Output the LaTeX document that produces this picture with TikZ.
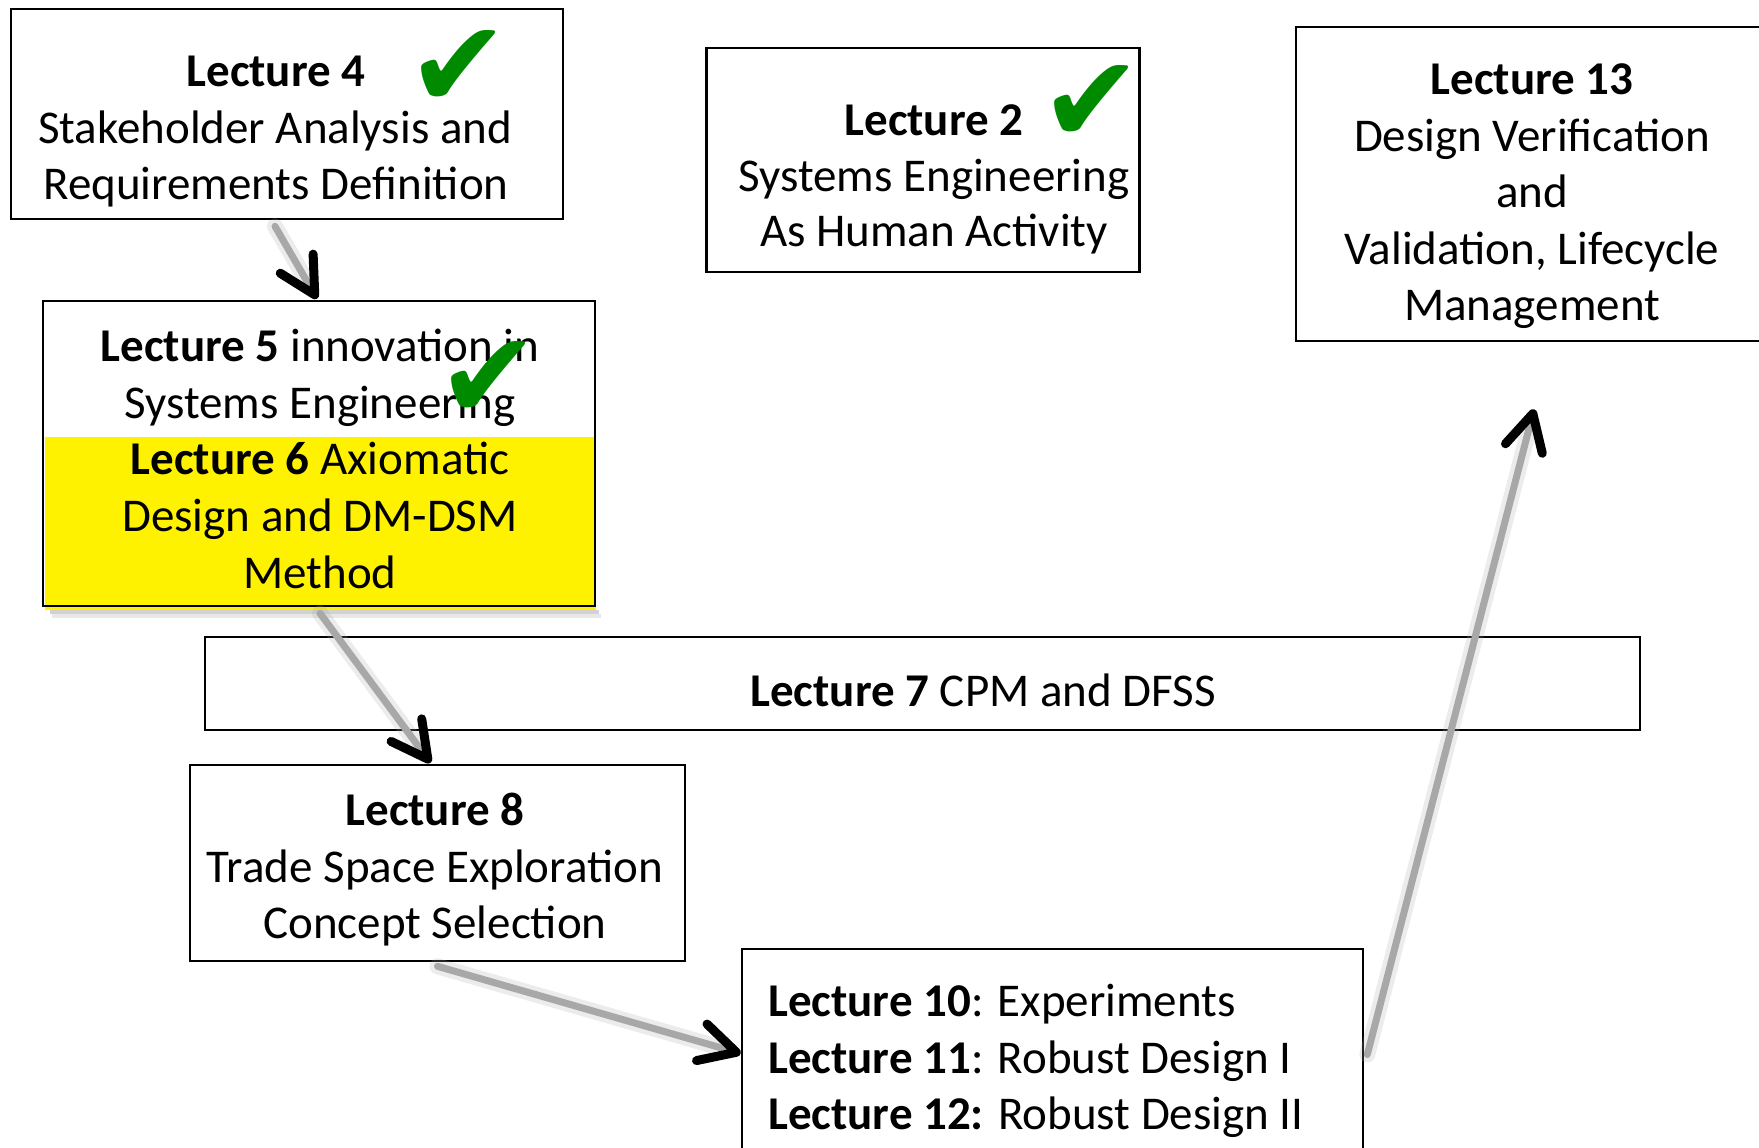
\documentclass[tikz,border=0pt]{standalone}
\usepackage{fontspec}
\setmainfont{Carlito}
\newfontfamily\symfont{DejaVu Sans}
\usetikzlibrary{arrows.meta,calc}
\definecolor{tickgreen}{RGB}{0,138,0}
\definecolor{flowgray}{RGB}{168,168,168}
\begin{document}
\begin{tikzpicture}[x=1pt,y=-1pt,
  box/.style={draw=black,line width=2.6pt,rectangle,inner sep=0pt},
  txt/.style={font=\fontsize{47}{57}\selectfont,inner sep=0pt,anchor=base},
  txtl/.style={txt,anchor=base west},
  tick/.style={text=tickgreen,font=\symfont\fontsize{122}{122}\selectfont,inner sep=0pt},
  haze/.style={line cap=round,draw=flowgray,opacity=0.22,line width=16pt},
  flow/.style={line cap=round,draw=flowgray,line width=7pt,
    -{Straight Barb[color=black,length=36pt,width=38pt,line width=9pt,round]}}]
\useasboundingbox (0,0) rectangle (1759,1148);

% highlighted part of the Lecture 5/6 box, with its soft shadow
\fill[gray!35] (50,610) rectangle (599,614);
\fill[gray!18] (52,614) rectangle (601,618);
\fill[yellow] (45,437) rectangle (596,610);

% boxes
\node[box,minimum width=552pt,minimum height=210pt] (L4) at (287,114) {};
\node[box,minimum width=433pt,minimum height=224pt] (L2) at (923,160) {};
\node[box,minimum width=494pt,minimum height=314pt] (L13) at (1543,184) {};
\node[box,minimum width=552pt,minimum height=305pt] (L56) at (319,453.5) {};
\node[box,minimum width=1435pt,minimum height=93pt] (L7) at (922.5,683.5) {};
\node[box,minimum width=495pt,minimum height=196pt] (L8) at (437.5,863) {};
\node[box,minimum width=621pt,minimum height=221pt] (L1012) at (1052.5,1059.5) {};

% texts
\node[txt] (t4a) at (276,86) {\textbf{Lecture 4}};
\node[txt] (t4b) at (275,143) {Stakeholder Analysis and};
\node[txt] (t4c) at (276,199) {Requirements Definition};

\node[txt] (t2a) at (934,135) {\textbf{Lecture 2}};
\node[txt] (t2b) at (934,191) {Systems Engineering};
\node[txt] (t2c) at (934,246) {As Human Activity};

\node[txt] (t13a) at (1532,94) {\textbf{Lecture 13}};
\node[txt] (t13b) at (1532,151) {Design Verification};
\node[txt] (t13c) at (1532,207) {and};
\node[txt] (t13d) at (1532,264) {Validation, Lifecycle};
\node[txt] (t13e) at (1532,320) {Management};

\node[txt] (t5a) at (320,361) {\textbf{Lecture 5} innovation in};
\node[txt] (t5b) at (320,418) {Systems Engineering};
\node[txt] (t6a) at (320,474) {\textbf{Lecture 6} Axiomatic};
\node[txt] (t6b) at (320,531) {Design and DM-DSM};
\node[txt] (t6c) at (320,588) {Method};

\node[txt] (t7) at (983,706) {\textbf{Lecture 7} CPM and DFSS};

\node[txt] (t8a) at (435,825) {\textbf{Lecture 8}};
\node[txt] (t8b) at (435,882) {Trade Space Exploration};
\node[txt] (t8c) at (435,938) {Concept Selection};

\node[txtl] (t10) at (768,1016) {\textbf{Lecture 10}: Experiments};
\node[txtl] (t11) at (768,1073) {\textbf{Lecture 11}: Robust Design I};
\node[txtl] (t12) at (768,1129) {\textbf{Lecture 12:} Robust Design II};

% done marks
\node[tick] (ck4) at (459,69) {✔};
\node[tick] (ck2) at (1092,104) {✔};
\node[tick] (ck5) at (489,380) {✔};

% connector ends
\coordinate (a1s) at ($(L4.south)+(-12,6)$);
\coordinate (a1e) at ($(L56.north)+(-2,-1)$);
\coordinate (a2s) at ($(L56.south)+(1,6)$);
\coordinate (a2e) at ($(L8.north)+(-7,-1)$);
\coordinate (a3s) at ($(L8.south)+(0,4)$);
\coordinate (a3e) at ($(L1012.west)+(0,-6)$);
\coordinate (a4s) at ($(L1012.east)+(3,-5)$);
\coordinate (a4e) at ($(L13.south)+(-9,67)$);

% connectors
\foreach \s/\e in {a1s/a1e,a2s/a2e,a3s/a3e,a4s/a4e}{
  \draw[haze] (\s) -- ($(\e)!20pt!(\s)$);
  \draw[flow] (\s) -- (\e);
}
\end{tikzpicture}
\end{document}
